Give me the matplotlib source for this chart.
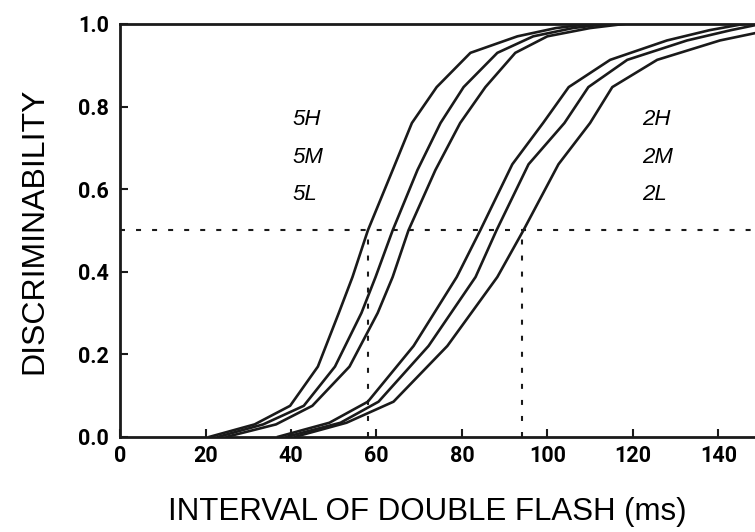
import matplotlib.pyplot as plt

plt.rcParams['font.family'] = ['Liberation Sans', 'DejaVu Sans']

# curvas: nível de discriminabilidade e intervalo (ms) de cada curva
y_5 = [0.0, 0.03, 0.075, 0.17, 0.30, 0.387, 0.5, 0.646, 0.76, 0.847, 0.93, 0.97, 0.99, 1.0]
x_5H = [21, 31.5, 39.8, 46.3, 51.2, 54.4, 58.0, 63.8, 68.3, 74.1, 82, 93, 102, 110]
x_5M = [23, 33.5, 43, 50.3, 56.5, 59.8, 63.8, 69.6, 75, 80.4, 88.3, 96.7, 106, 114]
x_5L = [25, 36.5, 45, 53.7, 60.3, 63.8, 67.5, 73.8, 79.6, 85.5, 92.5, 100, 110, 118]

y_2 = [0.0, 0.034, 0.085, 0.22, 0.387, 0.5, 0.66, 0.76, 0.847, 0.913, 0.96, 0.985, 1.0]
x_2H = [37, 49, 58, 68.7, 78.8, 84.3, 91.8, 99, 105, 114.7, 128, 138, 146]
x_2M = [39, 51.6, 60.5, 72.2, 83.2, 88.1, 95.6, 104, 109.6, 118.7, 132.7, 143, 150]
x_2L = [41, 53, 64, 76.6, 88.3, 94.4, 102.6, 110, 115.2, 125.7, 140.4, 152, 160]

labels_5 = ['5H', '5M', '5L']
labels_2 = ['2H', '2M', '2L']
limiares = [58, 94]   # intervalos onde as curvas cruzam 0.5
nivel = 0.5

fig = plt.figure(figsize=(7.55, 5.32), dpi=100)
ax = fig.add_axes([0.159, 0.179, 0.841, 0.776])

cor = '#1a1a1a'
for xs in (x_5H, x_5M, x_5L):
    ax.plot(xs, y_5, color=cor, lw=1.9, solid_joinstyle='round')
for xs in (x_2H, x_2M, x_2L):
    ax.plot(xs, y_2, color=cor, lw=1.9, solid_joinstyle='round')

# linhas tracejadas do limiar
tracejado = (0, (2.4, 5.3))
ax.axhline(nivel, color=cor, lw=1.5, ls=tracejado)
for xl in limiares:
    ax.plot([xl, xl], [0, nivel], color=cor, lw=1.5, ls=tracejado)

# rótulos das curvas
for i, t in enumerate(labels_5):
    ax.text(40.4, 0.768 - i * 0.091, t, fontsize=16, style='italic', va='center', ha='left')
for i, t in enumerate(labels_2):
    ax.text(122.2, 0.768 - i * 0.091, t, fontsize=16, style='italic', va='center', ha='left')

ax.set_xlim(0, 148.6)
ax.set_ylim(0, 1.0)
ax.set_xticks([0, 20, 40, 60, 80, 100, 120, 140])
ax.set_yticks([0.0, 0.2, 0.4, 0.6, 0.8, 1.0])
ax.set_yticklabels(['0.0', '0.2', '0.4', '0.6', '0.8', '1.0'])
ax.tick_params(direction='in', length=6, width=1.5, labelsize=15.5, color=cor)
ax.tick_params(axis='y', pad=8)
ax.tick_params(axis='x', pad=6)
plt.setp(ax.get_xticklabels() + ax.get_yticklabels(),
         fontfamily=['Roboto', 'DejaVu Sans'], fontweight='bold')

for s in ['left', 'bottom', 'top']:
    ax.spines[s].set_linewidth(2)
    ax.spines[s].set_color(cor)
ax.spines['right'].set_visible(False)

ax.set_xlabel('INTERVAL OF DOUBLE FLASH (ms)', fontsize=22.5)
ax.xaxis.set_label_coords(0.4835, -0.145)
ax.set_ylabel('DISCRIMINABILITY', fontsize=23)
ax.yaxis.set_label_coords(-0.112, 0.5)

fig.savefig('out.png', dpi=100)
